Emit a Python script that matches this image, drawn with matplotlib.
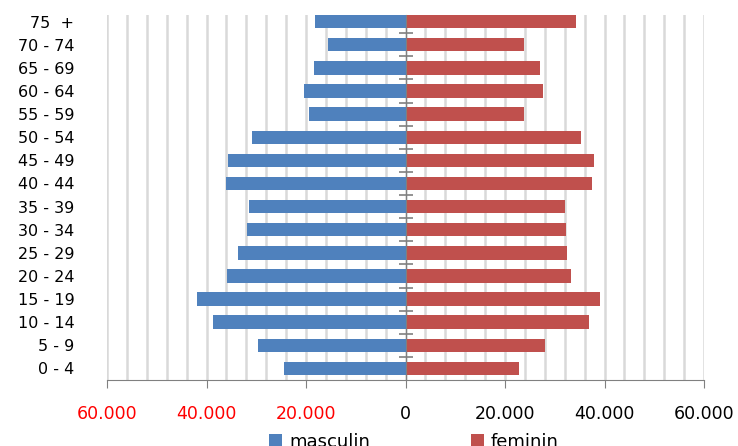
import matplotlib.pyplot as plt
import numpy as np
from matplotlib.ticker import MultipleLocator, FuncFormatter

# age groups, bottom to top
groups = ['0 - 4', '5 - 9', '10 - 14', '15 - 19', '20 - 24', '25 - 29', '30 - 34',
          '35 - 39', '40 - 44', '45 - 49', '50 - 54', '55 - 59', '60 - 64',
          '65 - 69', '70 - 74', '75  +']
masculin = [24500, 29700, 38700, 41900, 35800, 33600, 31900,
            31400, 36000, 35600, 30800, 19500, 20500, 18300, 15600, 18100]
feminin = [22900, 28100, 36900, 39100, 33200, 32500, 32200,
           32000, 37500, 37900, 35200, 23900, 27600, 27100, 23900, 34300]

blue = '#4f81bd'
red = '#c0504d'

fig = plt.figure(figsize=(7.38, 4.46), dpi=100)
ax = fig.add_axes([0.145, 0.148, 0.809, 0.818])

y = np.arange(len(groups))
ax.barh(y, [-v for v in masculin], height=0.58, color=blue, label='masculin', zorder=3)
ax.barh(y, feminin, height=0.58, color=red, label='feminin', zorder=3)

ax.set_xlim(-60000, 60000)
ax.set_ylim(-0.5, 15.28)

ax.xaxis.set_major_locator(MultipleLocator(20000))
ax.xaxis.set_minor_locator(MultipleLocator(4000))
ax.xaxis.set_major_formatter(FuncFormatter(lambda v, p: '{:,.0f}'.format(abs(v)).replace(',', '.')))
ax.grid(axis='x', which='both', color='#d9d9d9', linewidth=1.8, zorder=0)
ax.tick_params(axis='x', which='major', direction='out', length=6, color='#808080',
               labelsize=12.5, pad=12)
ax.tick_params(axis='x', which='minor', length=0)
for lbl, v in zip(ax.get_xticklabels(), ax.get_xticks()):
    lbl.set_color('red' if v < 0 else 'black')

ax.set_yticks(y)
ax.set_yticklabels(groups)
ax.set_yticks(y[:-1] + 0.5, minor=True)
ax.tick_params(axis='y', which='major', left=False, right=False, labelleft=True,
               labelsize=11.5, pad=20)
ax.tick_params(axis='y', which='minor', left=False, right=True, direction='inout',
               length=10, color='#808080', width=1.2)

ax.spines['top'].set_visible(False)
ax.spines['left'].set_visible(False)
ax.spines['right'].set_position(('data', 0))
ax.spines['right'].set_color('#808080')
ax.spines['right'].set_zorder(4)
ax.spines['bottom'].set_color('#808080')

fig.legend(loc='center left', bbox_to_anchor=(0.343, 0.01), ncol=2, frameon=False,
           fontsize=13, handlelength=0.7, handleheight=0.7, handletextpad=0.4,
           columnspacing=5.6)

fig.savefig('out.png', dpi=100)
